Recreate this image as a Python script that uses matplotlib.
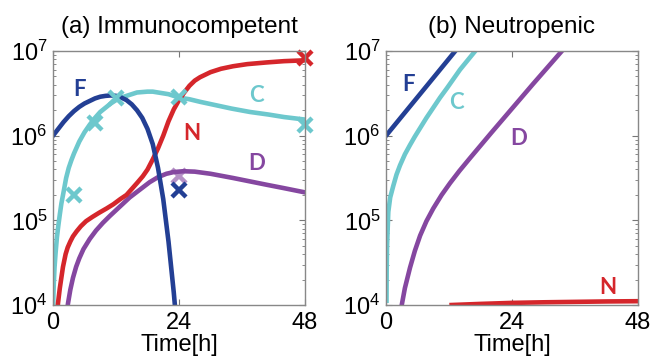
import matplotlib
matplotlib.use("Agg")
import matplotlib.pyplot as plt
from matplotlib.ticker import LogLocator, NullFormatter

plt.rcParams['font.family'] = ['Liberation Sans', 'DejaVu Sans']
plt.rcParams['mathtext.fontset'] = 'custom'
plt.rcParams['mathtext.rm'] = 'Liberation Sans'

# colours of the four populations
col_F = '#233f94'
col_C = '#6dc8cd'
col_N = '#d5262b'
col_D = '#8547a0'

# values, stored as log10(cell count)
# (a) immunocompetent - model curves
a_F_t = [0, 1, 2, 3, 4, 5, 6, 7, 8, 9, 10, 11, 12, 13, 14, 15, 16, 17, 18, 19, 20, 21, 22, 23, 23.5]
a_F_v = [6.00, 6.08, 6.16, 6.23, 6.29, 6.34, 6.38, 6.41, 6.44, 6.46, 6.47, 6.475, 6.47, 6.45, 6.42,
         6.37, 6.30, 6.21, 6.08, 5.90, 5.62, 5.25, 4.75, 4.15, 3.8]
a_C_t = [0.02, 0.15, 0.3, 0.5, 0.75, 1.0, 1.3, 1.6, 2.0, 2.5, 3.0, 3.5, 4.0, 5.0, 6.0, 7.0, 8.0, 9.0,
         10, 11, 12, 13, 14, 15, 16, 17, 18, 19, 20, 21, 22, 23, 24, 26, 28, 31, 34, 37.5, 41, 44, 48]
a_C_v = [4.0, 4.25, 4.45, 4.62, 4.8, 4.93, 5.07, 5.2, 5.33, 5.5, 5.62, 5.71, 5.79, 5.93, 6.04, 6.13,
         6.21, 6.28, 6.33, 6.38, 6.42, 6.45, 6.47, 6.49, 6.51, 6.515, 6.52, 6.52, 6.51, 6.50, 6.49,
         6.47, 6.45, 6.43, 6.40, 6.36, 6.32, 6.28, 6.25, 6.22, 6.19]
a_N_t = [0.8, 0.95, 1.3, 1.9, 2.4, 2.8, 3.3, 3.8, 4.5, 5.3, 6.3, 7.5, 8.8, 10.2, 11.5, 12.8, 14, 15,
         16, 17.1, 18, 19, 20, 21, 22, 23, 24, 25, 26, 27, 28, 30, 32, 34.3, 37, 40.7, 44, 48]
a_N_v = [3.9, 4.02, 4.2, 4.45, 4.6, 4.68, 4.75, 4.81, 4.87, 4.93, 4.99, 5.04, 5.09, 5.14, 5.19, 5.25,
         5.30, 5.37, 5.44, 5.52, 5.60, 5.72, 5.85, 6.0, 6.17, 6.31, 6.42, 6.51, 6.59, 6.65, 6.69,
         6.75, 6.79, 6.82, 6.845, 6.865, 6.88, 6.89]
a_D_t = [2.7, 2.86, 3.3, 3.8, 4.4, 5.0, 5.8, 7.0, 8.2, 9.5, 10.8, 12.7, 14.6, 16.5, 18.4, 20, 21.6,
         23, 24.8, 27, 30, 34.3, 37.5, 40.7, 44, 48]
a_D_v = [3.95, 4.02, 4.18, 4.32, 4.45, 4.55, 4.66, 4.78, 4.88, 4.97, 5.05, 5.16, 5.27, 5.36, 5.45,
         5.51, 5.55, 5.57, 5.58, 5.575, 5.55, 5.50, 5.46, 5.42, 5.38, 5.33]

# (a) measured points (cell counts)
a_C_mt = [4, 8, 12, 24, 48]
a_C_my = [2.0e5, 1.4e6, 2.8e6, 2.9e6, 1.35e6]
a_D_mt = [24]
a_D_my = [3.3e5]
a_F_mt = [24]
a_F_my = [2.3e5]
a_N_mt = [48]
a_N_my = [8.2e6]

# (b) neutropenic - model curves (log10)
b_F_t = [0, 13.2]
b_F_v = [6.0, 7.0]
b_C_t = [0.1, 0.13, 0.2, 0.44, 0.8, 1.4, 2.0, 2.67, 3.6, 4.57, 5.5, 6.5, 7.7, 9.0, 10.3, 11.6, 14.1, 17]
b_C_v = [4.05, 4.4, 4.70, 5.10, 5.27, 5.41, 5.54, 5.65, 5.78, 5.89, 5.99, 6.09, 6.21, 6.33, 6.45,
         6.56, 6.78, 7.0]
b_D_t = [3.0, 3.6, 4.57, 5.5, 6.5, 7.7, 9.0, 10.6, 12.2, 14, 16, 20, 24, 28, 33.5]
b_D_v = [4.0, 4.2, 4.44, 4.64, 4.82, 4.99, 5.14, 5.30, 5.44, 5.585, 5.735, 6.03, 6.32, 6.61, 7.0]
b_N_t = [12.5, 18, 24, 30, 36, 42, 48]
b_N_v = [4.0, 4.013, 4.025, 4.032, 4.037, 4.042, 4.045]

xticks = [0, 24, 48]


def pw(v):
    return [10 ** x for x in v]


fig = plt.figure(figsize=(6.51, 3.62), dpi=100)
ax1 = fig.add_axes([53/651, 1-305/362, 252/651, 254/362])
ax2 = fig.add_axes([386/651, 1-305/362, 252/651, 254/362])

lw = 3.3
ax1.plot(a_C_t, pw(a_C_v), color=col_C, lw=lw)
ax1.plot(a_D_t, pw(a_D_v), color=col_D, lw=lw)
ax1.plot(a_N_t, pw(a_N_v), color=col_N, lw=lw)
ax1.plot(a_F_t, pw(a_F_v), color=col_F, lw=lw)
mk = dict(marker='x', ls='none', ms=10, mew=3.2, clip_on=False)
ax1.plot(a_D_mt, a_D_my, color=col_D, alpha=0.6, **mk)
ax1.plot(a_C_mt, a_C_my, color=col_C, **mk)
ax1.plot(a_F_mt, a_F_my, color=col_F, **mk)
ax1.plot(a_N_mt, a_N_my, color=col_N, **mk)

lab = dict(fontsize=16, fontweight='bold', ha='center', va='center', family=['Lato', 'DejaVu Sans'])
ax1.text(5.1, 3.5e6, 'F', color=col_F, **lab)
ax1.text(26.4, 1.07e6, 'N', color=col_N, **lab)
ax1.text(38.8, 3.0e6, 'C', color=col_C, **lab)
ax1.text(38.8, 4.7e5, 'D', color=col_D, **lab)

ax2.plot(b_N_t, pw(b_N_v), color=col_N, lw=lw)
ax2.plot(b_D_t, pw(b_D_v), color=col_D, lw=lw)
ax2.plot(b_C_t, pw(b_C_v), color=col_C, lw=lw)
ax2.plot(b_F_t, pw(b_F_v), color=col_F, lw=lw)
ax2.text(4.3, 4.0e6, 'F', color=col_F, **lab)
ax2.text(13.5, 2.45e6, 'C', color=col_C, **lab)
ax2.text(25.2, 9.3e5, 'D', color=col_D, **lab)
ax2.text(42.3, 1.63e4, 'N', color=col_N, **lab)

titles = ['(a) Immunocompetent', '(b) Neutropenic']
for ax, t in zip([ax1, ax2], titles):
    ax.set_yscale('log')
    ax.set_xlim(0, 48)
    ax.set_ylim(1e4, 1e7)
    ax.set_xticks(xticks)
    ax.set_xticklabels([str(v) for v in xticks])
    ax.yaxis.set_major_locator(LogLocator(base=10, numticks=10))
    ax.yaxis.set_minor_locator(LogLocator(base=10, subs=range(2, 10), numticks=10))
    ax.yaxis.set_minor_formatter(NullFormatter())
    ax.tick_params(which='both', direction='in', top=True, right=True, colors='#777777',
                   labelcolor='black', labelsize=17)
    ax.tick_params(which='major', length=4, width=0.8)
    ax.tick_params(which='minor', length=2, width=0.6)
    ax.tick_params(axis='x', pad=5)
    ax.tick_params(axis='y', pad=4)
    for s in ax.spines.values():
        s.set_color('#888888')
        s.set_linewidth(1.0)
    ax.set_xlabel('Time[h]', fontsize=17, labelpad=0)
    ax.text(0.5, 1.095, t, transform=ax.transAxes, ha='center', va='center', fontsize=17.5)

fig.savefig('out.png', dpi=100)
